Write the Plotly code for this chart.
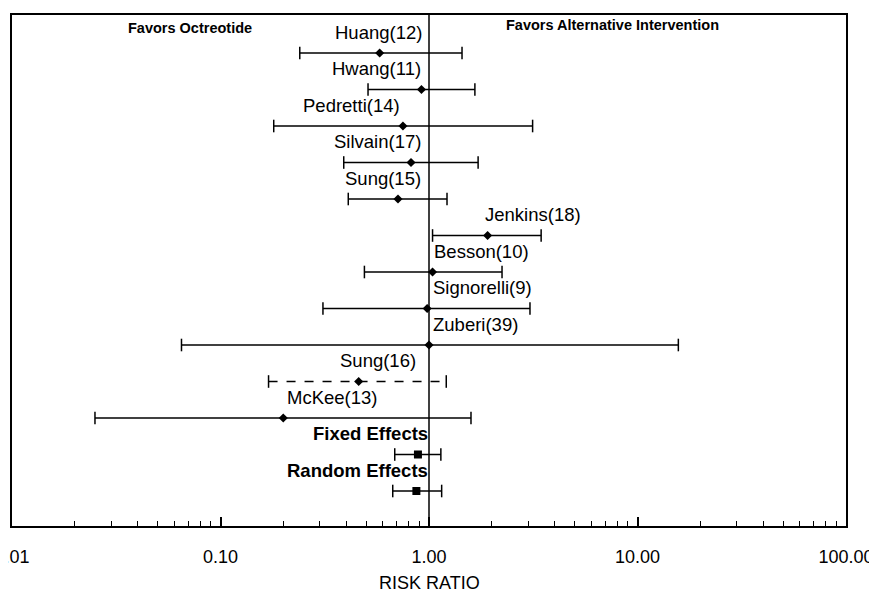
import numpy as np
import plotly.graph_objects as go

studies = ["Huang(12)", "Hwang(11)", "Pedretti(14)", "Silvain(17)", "Sung(15)",
           "Jenkins(18)", "Besson(10)", "Signorelli(9)", "Zuberi(39)", "Sung(16)",
           "McKee(13)", "Fixed Effects", "Random Effects"]
rr = [0.58, 0.92, 0.75, 0.82, 0.71, 1.91, 1.04, 0.98, 1.00, 0.46, 0.20, 0.885, 0.87]
lo = [0.24, 0.51, 0.18, 0.39, 0.41, 1.04, 0.49, 0.31, 0.065, 0.17, 0.025, 0.685, 0.67]
hi = [1.44, 1.66, 3.14, 1.72, 1.22, 3.45, 2.24, 3.05, 15.7, 1.21, 1.59, 1.14, 1.15]
pooled = [False] * 11 + [True, True]
tick_vals = [0.01, 0.1, 1, 10, 100]
tick_text = ["0.01", "0.10", "1.00", "10.00", "100.00"]
minor_vals = [m * d for d in (0.01, 0.1, 1, 10) for m in range(2, 10)]

# label placement (text anchors)
label_x = [0.95, 0.935, 0.74, 0.935, 0.935, 1.82, 1.03, 1.025, 1.025, 0.89, 0.204, 1.01, 1.015]
label_anchor = ["right", "right", "right", "right", "right", "left", "left", "left", "left",
                "right", "left", "right", "right"]
dashed_rows = [9]

FONT = "Liberation Sans, Arial, sans-serif"
Y_RANGE = [12.959, -1.041]

n = len(studies)
rows = list(range(n))

fig = go.Figure()

# CI lines
for dash_group in (False, True):
    xs, ys = [], []
    for i in rows:
        if (i in dashed_rows) != dash_group:
            continue
        xs += [lo[i], hi[i], None]
        ys += [i, i, None]
    fig.add_trace(go.Scatter(x=xs, y=ys, mode="lines",
                             line=dict(color="black", width=1.6, dash="dash" if dash_group else "solid"),
                             hoverinfo="skip", showlegend=False))

# caps
fig.add_trace(go.Scatter(x=lo + hi, y=rows + rows, mode="markers",
                         marker=dict(symbol="line-ns-open", size=9, color="black",
                                     line=dict(color="black", width=1.5)),
                         hoverinfo="skip", showlegend=False))

# points
si = [i for i in rows if not pooled[i]]
pi = [i for i in rows if pooled[i]]
fig.add_trace(go.Scatter(x=[rr[i] for i in si], y=si, mode="markers",
                         marker=dict(symbol="diamond", size=7, color="black"),
                         showlegend=False))
fig.add_trace(go.Scatter(x=[rr[i] for i in pi], y=pi, mode="markers",
                         marker=dict(symbol="square", size=8, color="black"),
                         showlegend=False))

# reference line at RR = 1
fig.add_trace(go.Scatter(x=[1, 1], y=Y_RANGE, mode="lines",
                         line=dict(color="black", width=1.5), hoverinfo="skip", showlegend=False))

annotations = []
for i in rows:
    annotations.append(dict(x=np.log10(label_x[i]), y=i, xref="x", yref="y",
                            text=("<b>%s</b>" % studies[i]) if pooled[i] else studies[i],
                            showarrow=False, xanchor=label_anchor[i], yanchor="middle",
                            yshift=21, font=dict(family=FONT, size=18.5, color="black")))
annotations.append(dict(x=0.213, y=0.975, xref="paper", yref="paper", text="<b>Favors Octreotide</b>",
                        showarrow=False, xanchor="center", yanchor="middle",
                        font=dict(family=FONT, size=14.5, color="black")))
annotations.append(dict(x=0.72, y=0.98, xref="paper", yref="paper",
                        text="<b>Favors Alternative Intervention</b>",
                        showarrow=False, xanchor="center", yanchor="middle",
                        font=dict(family=FONT, size=14.5, color="black")))
annotations.append(dict(x=0.5, y=-0.1115, xref="paper", yref="paper", text="RISK RATIO",
                        showarrow=False, xanchor="center", yanchor="middle",
                        font=dict(family=FONT, size=18, color="black")))

fig.update_layout(
    width=877, height=593,
    margin=dict(l=4, r=39, t=7, b=75),
    paper_bgcolor="white", plot_bgcolor="white",
    annotations=annotations,
    xaxis=dict(type="log", range=[-2, 2], tickmode="array", tickvals=tick_vals, ticktext=tick_text,
               ticks="inside", ticklen=9, tickwidth=1.5, tickcolor="black",
               minor=dict(ticks="inside", ticklen=5, tickwidth=1, tickcolor="black",
                          tickmode="array", tickvals=minor_vals, showgrid=False),
               showline=True, linecolor="black", linewidth=1.6, mirror=True,
               showgrid=False, zeroline=False, ticklabelstandoff=14, automargin=False,
               ticklabeloverflow="allow",
               tickfont=dict(family=FONT, size=18, color="black")),
    yaxis=dict(range=Y_RANGE, showticklabels=False, ticks="", showgrid=False, zeroline=False,
               showline=True, linecolor="black", linewidth=1.6, mirror=True, automargin=False),
)

fig.write_html("out.html")
